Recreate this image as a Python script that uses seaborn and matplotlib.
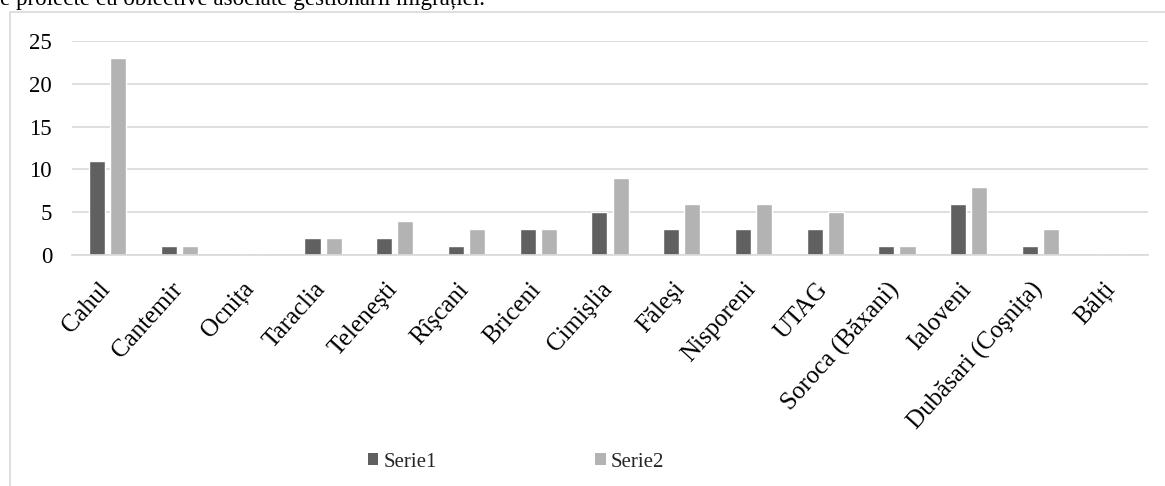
import matplotlib
matplotlib.use("Agg")
import matplotlib.pyplot as plt
from matplotlib.patches import Patch, Rectangle
from matplotlib.transforms import ScaledTranslation
import seaborn as sns
import pandas as pd

# ── Data ───────────────────────────────────────────────────────────────────────

raioane = ["Cahul", "Cantemir", "Ocnița", "Taraclia", "Teleneşti", "Rîşcani",
           "Briceni", "Cimişlia", "Făleşi", "Nisporeni", "UTAG",
           "Soroca (Băxani)", "Ialoveni", "Dubăsari (Coşnița)", "Bălți"]
serie1 = [11, 1, 0, 2, 2, 1, 3, 5, 3, 3, 3, 1, 6, 1, 0]
serie2 = [23, 1, 0, 2, 4, 3, 3, 9, 6, 6, 5, 1, 8, 3, 0]
series_names = ["Serie1", "Serie2"]
yticks = [0, 5, 10, 15, 20, 25]

df = pd.DataFrame({"raion": raioane, "Serie1": serie1, "Serie2": serie2})
long_df = df.melt(id_vars="raion", var_name="serie", value_name="valoare")

sns.set_theme(style="white")
plt.rcParams["font.family"] = ["Liberation Serif", "DejaVu Serif"]

COLORS = {"Serie1": "#606060", "Serie2": "#b3b3b3"}
GRID = "#d9d9d9"
W, H = 1165, 486

fig = plt.figure(figsize=(W / 100, H / 100), dpi=100)
fig.patch.set_facecolor("white")

# chart frame (Word chart border, partly out of view)
fig.patches.append(Rectangle((10 / W, -0.2), 1.2, 1.2 - 12 / H,
                             transform=fig.transFigure, fill=False,
                             edgecolor=GRID, linewidth=1.2))

# caption line of the document, cut off at the top
fig.text(0, 1 - 5 / H, "e proiecte cu obiective asociate gestionării migrației.",
         fontsize=16.6, ha="left", va="baseline", color="black")

ax = fig.add_axes([72 / W, 1 - 255 / H, (1148 - 72) / W, (255 - 41) / H])

sns.barplot(data=long_df, x="raion", y="valoare", hue="serie",
            palette=COLORS, width=0.59, gap=0.24, saturation=1,
            legend=False, ax=ax)

ax.set_ylim(0, 25)
ax.set_yticks(yticks)
ax.set_xlim(-0.5, len(raioane) - 0.5)
ax.yaxis.grid(True, color=GRID, linewidth=1.2)
ax.set_axisbelow(True)
for s in ["top", "right", "left"]:
    ax.spines[s].set_visible(False)
ax.spines["bottom"].set_color(GRID)
ax.spines["bottom"].set_linewidth(1.2)
ax.set_xlabel("")
ax.set_ylabel("")
ax.tick_params(axis="both", length=0, colors="black")
ax.tick_params(axis="y", pad=14.4, labelsize=16.5)
ax.tick_params(axis="x", pad=22, labelsize=18)
ax.set_xticks(range(len(raioane)))
ax.set_xticklabels(raioane, rotation=48, ha="right", va="center",
                   rotation_mode="anchor")
shift = ScaledTranslation(-1 / 100, 0, fig.dpi_scale_trans)
for lbl in ax.get_xticklabels():
    lbl.set_transform(lbl.get_transform() + shift)

handles = [Patch(facecolor=COLORS[n], edgecolor="none", label=n) for n in series_names]
fig.legend(handles=handles, loc="center left", ncol=2,
           bbox_to_anchor=(368 / W, 1 - 462 / H), frameon=False,
           fontsize=15, handlelength=0.5, handleheight=0.5,
           handletextpad=0.25, columnspacing=7.6, borderpad=0, borderaxespad=0)

fig.savefig("out.png", dpi=100, facecolor="white")
